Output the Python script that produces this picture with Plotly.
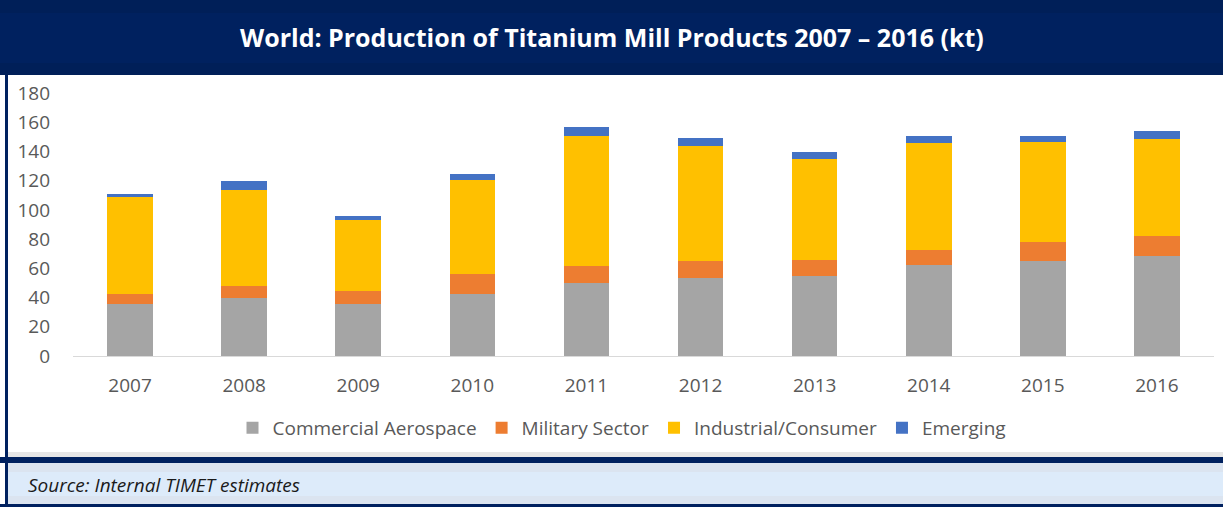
import plotly.graph_objects as go

years = ["2007", "2008", "2009", "2010", "2011", "2012", "2013", "2014", "2015", "2016"]
commercial_aerospace = [35.6, 39.5, 35.6, 42.2, 49.7, 53.2, 55.0, 62.3, 65.0, 68.7]
military_sector = [7.0, 8.6, 9.1, 13.7, 12.1, 11.8, 10.7, 10.3, 13.2, 13.6]
industrial_consumer = [66.0, 65.5, 48.2, 64.3, 89.0, 78.7, 69.1, 73.0, 68.1, 66.2]
emerging = [2.5, 6.2, 3.1, 4.4, 5.7, 5.7, 5.0, 5.2, 4.5, 5.5]
y_ticks = [0, 20, 40, 60, 80, 100, 120, 140, 160, 180]

W, H = 1223, 507
# plot area in pixels
L, R, T, B = 73, 1214, 93, 356
NAVY = "#00215F"
TEXT = "#595959"


def px(x):
    return (x - L) / (R - L)


def py(y):
    return (B - y) / (B - T)


fig = go.Figure()

series = [
    ("Commercial Aerospace", commercial_aerospace, "#A5A5A5"),
    ("Military Sector", military_sector, "#ED7D31"),
    ("Industrial/Consumer", industrial_consumer, "#FFC000"),
    ("Emerging", emerging, "#4472C4"),
]
for name, vals, color in series:
    fig.add_trace(go.Bar(
        x=years,
        y=vals,
        name=name,
        marker_color=color,
        marker_line_width=0,
    ))

# frame: header, left border, source box
shapes = [
    dict(x0=px(0), x1=px(W), y0=py(0), y1=py(75), fillcolor=NAVY),
    dict(x0=px(0), x1=px(W), y0=py(0), y1=py(13), fillcolor="#001F58"),
    dict(x0=px(0), x1=px(W), y0=py(63), y1=py(75), fillcolor="#001F58"),
    dict(x0=px(8), x1=px(W), y0=py(452), y1=py(457), fillcolor="#E6E6E6"),
    dict(x0=px(0), x1=px(W), y0=py(457), y1=py(463), fillcolor=NAVY),
    dict(x0=px(8), x1=px(W), y0=py(463), y1=py(504), fillcolor="#DBE4F0"),
    dict(x0=px(8), x1=px(W), y0=py(472), y1=py(496), fillcolor="#DDEBFA"),
    dict(x0=px(0), x1=px(W), y0=py(504), y1=py(507), fillcolor=NAVY),
    dict(x0=px(5), x1=px(8), y0=py(75), y1=py(507), fillcolor=NAVY),
]
for s in shapes:
    fig.add_shape(type="rect", xref="paper", yref="paper", line_width=0,
                  layer="below", **s)

fig.add_annotation(
    text="<b>World: Production of Titanium Mill Products 2007 – 2016 (kt)</b>",
    xref="paper", yref="paper", x=px(W / 2), y=py(37),
    xanchor="center", yanchor="middle", showarrow=False,
    font=dict(family="Open Sans", size=25, color="white"),
)
fig.add_annotation(
    text="<i>Source: Internal TIMET estimates</i>",
    xref="paper", yref="paper", x=px(26), y=py(485),
    xanchor="left", yanchor="middle", showarrow=False,
    font=dict(family="Open Sans", size=19, color="#1A1A1A"),
)

fig.update_layout(
    width=W,
    height=H,
    margin=dict(l=L, r=W - R, t=T, b=H - B, pad=0),
    paper_bgcolor="white",
    plot_bgcolor="white",
    barmode="stack",
    bargap=0.6,
    font=dict(family="Open Sans", size=19, color=TEXT),
    showlegend=True,
    legend=dict(
        orientation="h",
        x=px(622), y=py(428),
        xanchor="center", yanchor="middle",
        font=dict(size=19, color=TEXT),
        itemwidth=30,
        traceorder="normal",
    ),
)
fig.update_yaxes(
    range=[0, 180],
    tickvals=y_ticks,
    showgrid=False,
    zeroline=False,
    ticks="",
    ticklabelstandoff=22,
    tickfont=dict(size=19, color=TEXT),
)
fig.update_xaxes(
    showline=True,
    linecolor="#D9D9D9",
    linewidth=1,
    ticks="",
    showgrid=False,
    ticklabelstandoff=12,
    tickfont=dict(size=19, color=TEXT),
)

fig.write_html("out.html", config={"displayModeBar": False},
               post_script="document.body.style.margin='0px';")
